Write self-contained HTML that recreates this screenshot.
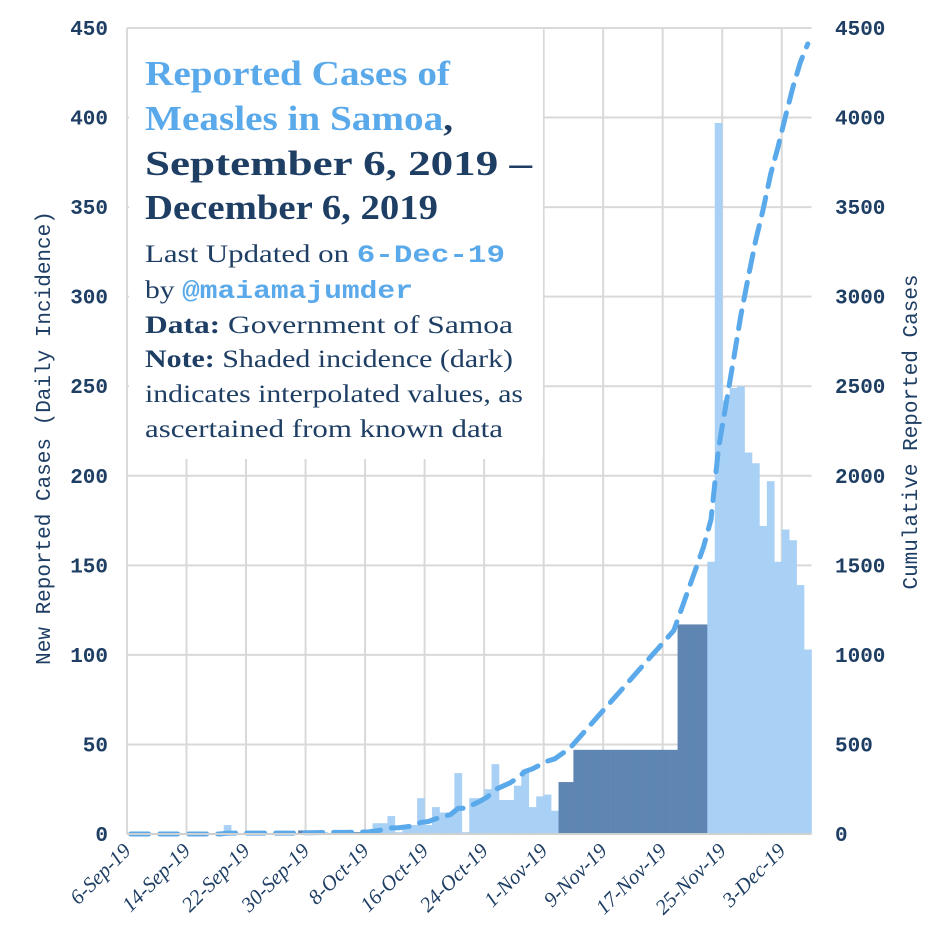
<!DOCTYPE html>
<html><head><meta charset="utf-8"><style>
html,body{margin:0;padding:0;background:#fff;}
svg{display:block;}
</style></head><body>
<svg id="chart" width="949" height="949" viewBox="0 0 949 949" xmlns="http://www.w3.org/2000/svg">
<g id="grid"></g>
<g id="bars"></g>
<rect x="129" y="29" width="414" height="430" fill="#fff"/>
<g id="line"></g>
<g id="axes"></g>
<g font-family="'Liberation Serif', serif">
<text x="145" y="85" font-size="35" font-weight="bold" fill="#5aa9ea" textLength="305" lengthAdjust="spacingAndGlyphs">Reported Cases of</text>
<text x="145" y="130" font-size="35" font-weight="bold" fill="#5aa9ea" textLength="308" lengthAdjust="spacingAndGlyphs">Measles in Samoa<tspan fill="#1e3e64">,</tspan></text>
<text x="145" y="175" font-size="35" font-weight="bold" fill="#1e3e64" textLength="387" lengthAdjust="spacingAndGlyphs">September 6, 2019 –</text>
<text x="145" y="219" font-size="35" font-weight="bold" fill="#1e3e64" textLength="293" lengthAdjust="spacingAndGlyphs">December 6, 2019</text>
<text x="145" y="262" font-size="25" fill="#1e3e64" textLength="360" lengthAdjust="spacingAndGlyphs">Last Updated on <tspan font-family="'Liberation Mono', monospace" font-weight="bold" fill="#5aa9ea">6-Dec-19</tspan></text>
<text x="145" y="298" font-size="25" fill="#1e3e64" textLength="268" lengthAdjust="spacingAndGlyphs">by <tspan font-family="'Liberation Mono', monospace" font-weight="bold" fill="#5aa9ea">@maiamajumder</tspan></text>
<text x="145" y="333" font-size="25" fill="#1e3e64" textLength="368" lengthAdjust="spacingAndGlyphs"><tspan font-weight="bold">Data:</tspan> Government of Samoa</text>
<text x="145" y="367" font-size="25" fill="#1e3e64" textLength="368" lengthAdjust="spacingAndGlyphs"><tspan font-weight="bold">Note:</tspan> Shaded incidence (dark)</text>
<text x="145" y="402" font-size="25" fill="#1e3e64" textLength="378" lengthAdjust="spacingAndGlyphs">indicates interpolated values, as</text>
<text x="145" y="437" font-size="25" fill="#1e3e64" textLength="358" lengthAdjust="spacingAndGlyphs">ascertained from known data</text>
</g>
</svg>
<script>
const daily=[0,0,0,0,0,0,0,0,0,0,0,0,0,5,0,0,0,0,0,0,0,0,0,2,0,1,1,0,0,0,1,1,1,6,6,10,1,5,5,20,5,15,12,12,34,1,20,20,25,39,19,19,27,36,15,21,22,13,29,29,47,47,47,47,47,47,47,47,47,47,47,47,47,47,117,117,117,117,152,397,242,249,250,213,207,172,197,152,170,164,139,103];
const interpolated=[23,30,31,32,58,59,60,61,62,63,64,65,66,67,68,69,70,71,72,73,74,75,76,77];
const dateLabels=["6-Sep-19","14-Sep-19","22-Sep-19","30-Sep-19","8-Oct-19","16-Oct-19","24-Oct-19","1-Nov-19","9-Nov-19","17-Nov-19","25-Nov-19","3-Dec-19"];
const leftTicks=[0,50,100,150,200,250,300,350,400,450];
const rightTicks=[0,500,1000,1500,2000,2500,3000,3500,4000,4500];
const NS="http://www.w3.org/2000/svg";
const X0=127,DW=7.44,Y0=834,YT=28;
const xDay=i=>X0+i*DW;
const yL=v=>Y0-(v/450)*(Y0-YT);
const yR=v=>Y0-(v/4500)*(Y0-YT);
function mk(tag,attrs,parent){const e=document.createElementNS(NS,tag);for(const k in attrs)e.setAttribute(k,attrs[k]);parent.appendChild(e);return e;}
const grid=document.getElementById('grid'),bars=document.getElementById('bars'),line=document.getElementById('line'),axes=document.getElementById('axes');
const xEnd=xDay(daily.length);
leftTicks.forEach((t,k)=>{
 if(t>0){const g=mk('line',{x1:X0,x2:xEnd,y1:yL(t),y2:yL(t),stroke:'#d9d9d9','stroke-width':2},grid);
 
 }
 const l=mk('text',{x:108,y:yL(t)+7,'text-anchor':'end','font-family':"'Liberation Mono', monospace",'font-size':21,'font-weight':'bold',fill:'#1e3e64'},axes);
 l.textContent=t;
 
 
});
rightTicks.forEach(t=>{
 const l=mk('text',{x:835,y:yR(t)+7,'font-family':"'Liberation Mono', monospace",'font-size':21,'font-weight':'bold',fill:'#1e3e64'},axes);
 l.textContent=t;
 
 
});
dateLabels.forEach((d,k)=>{
 const x=xDay(k*8);
 const g=mk('line',{x1:x,x2:x,y1:YT,y2:Y0,stroke:'#d9d9d9','stroke-width':2},grid);
 
 
 const l=mk('text',{x:0,y:0,'text-anchor':'end','font-family':"'Liberation Serif', serif",'font-style':'italic','font-size':21,fill:'#1e3e64',transform:`translate(${x+5},852) rotate(-45)`},axes);
 l.textContent=d;
 
 
});
daily.forEach((v,i)=>{
 if(v<=0)return;
 const dark=interpolated.includes(i);
 const r=mk('rect',{x:xDay(i),y:yL(v),width:DW+0.3,height:Y0-yL(v),fill:dark?'#5f86b2':'#a9d0f5'},bars);
 
 
});
const base=mk('line',{x1:X0,x2:xEnd,y1:Y0,y2:Y0,stroke:'#d0d0d0','stroke-width':2},axes);


let cum=0,pts=[];
daily.forEach((v,i)=>{cum+=v;pts.push(`${(xDay(i)+DW/2).toFixed(1)},${yR(cum).toFixed(1)}`);});
const p=mk('polyline',{points:pts.join(' '),fill:'none',stroke:'#5aa9ea','stroke-width':5,'stroke-dasharray':'18 11','stroke-linecap':'round'},line);


const lt=mk('text',{x:0,y:0,'text-anchor':'middle','font-family':"'Liberation Mono', monospace",'font-size':21,fill:'#1e3e64',transform:'translate(50,438) rotate(-90)'},axes);
lt.textContent='New Reported Cases (Daily Incidence)';


const rt=mk('text',{x:0,y:0,'text-anchor':'middle','font-family':"'Liberation Mono', monospace",'font-size':21,fill:'#1e3e64',transform:'translate(917,432) rotate(-90)'},axes);
rt.textContent='Cumulative Reported Cases';


</script>
</body></html>
